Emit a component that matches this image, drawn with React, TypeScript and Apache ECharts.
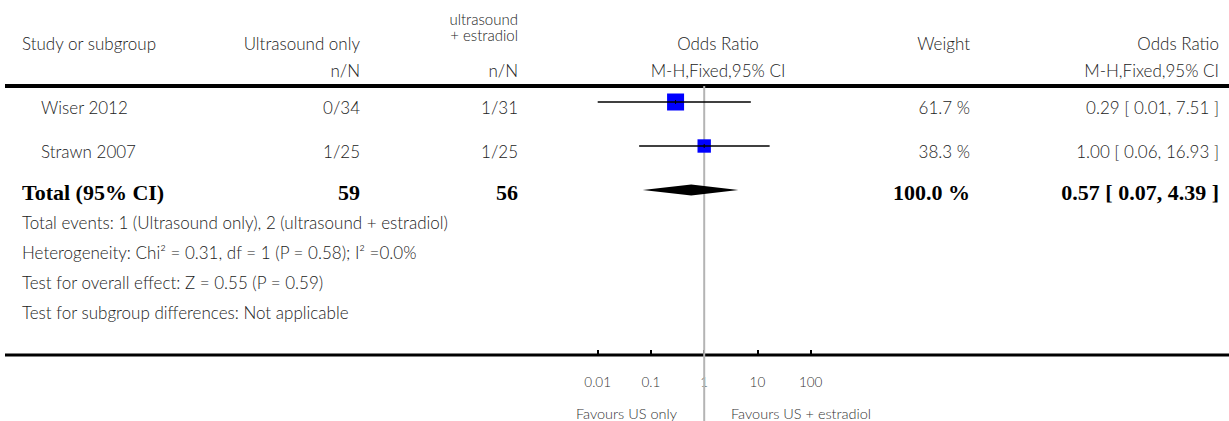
import React, { useEffect, useRef } from "react";
import * as echarts from "echarts";

// ---------- data ----------
const studies = ["Wiser 2012", "Strawn 2007"];
const usOnlyCounts = ["0/34", "1/25"];
const usEstradiolCounts = ["1/31", "1/25"];
const weights = [61.7, 38.3];
const oddsRatios = [0.29, 1.0];
const ciLow = [0.01, 0.06];
const ciHigh = [7.51, 16.93];
const weightLabels = ["61.7 %", "38.3 %"];
const ciLabels = ["0.29 [ 0.01, 7.51 ]", "1.00 [ 0.06, 16.93 ]"];

const totalLabel = "Total (95% CI)";
const totalUsOnly = "59";
const totalUsEstradiol = "56";
const totalWeightLabel = "100.0 %";
const totalOR = [0.57];
const totalLow = [0.07];
const totalHigh = [4.39];
const totalCiLabel = "0.57 [ 0.07, 4.39 ]";

const footnotes = [
  "Total events: 1 (Ultrasound only), 2 (ultrasound + estradiol)",
  "Heterogeneity: Chi\u00B2 = 0.31, df = 1 (P = 0.58); I\u00B2 =0.0%",
  "Test for overall effect: Z = 0.55 (P = 0.59)",
  "Test for subgroup differences: Not applicable",
];

const tickValues = [0.01, 0.1, 1, 10, 100];
const tickLabels = ["0.01", "0.1", "1", "10", "100"];
const favoursLeft = "Favours US only";
const favoursRight = "Favours US + estradiol";

// ---------- layout ----------
const W = 1229;
const H = 421;
const SANS = "Lato, 'Open Sans', 'DejaVu Sans', sans-serif";
const SERIF = "'Liberation Serif', 'DejaVu Serif', serif";
const TXT = "#222";
const FS = 17;
const headerLineY = 86;
const axisLineY = 355;
const rowStep = 44;
const firstRowOffset = 16;
const gridLeft = 597.7;
const gridRight = 810.7;

const colStudyX = 41;
const colUsOnlyX = 360;
const colUsEstX = 518;
const colWeightX = 970;
const colCiX = 1219;
const plotCenterX = 718;

function rowY(i: number) {
  return headerLineY + firstRowOffset + i * rowStep;
}

function txt(
  text: string,
  x: number,
  y: number,
  align: string,
  opts: { size?: number; bold?: boolean; serif?: boolean; fill?: string; lineHeight?: number } = {}
) {
  return {
    type: "text",
    silent: true,
    style: {
      text,
      x,
      y,
      align,
      verticalAlign: "middle",
      fontSize: opts.size ?? FS,
      fontFamily: opts.serif ? SERIF : SANS,
      fontWeight: opts.bold ? "bold" : 300,
      fill: opts.fill ?? TXT,
      lineHeight: opts.lineHeight,
    },
  };
}

export default function App() {
  const ref = useRef<HTMLDivElement>(null);

  useEffect(() => {
    if (!ref.current) return;
    const chart = echarts.init(ref.current, undefined, { renderer: "svg" });

    const studyData = studies.map((_, i) => [
      oddsRatios[i],
      ciLow[i],
      ciHigh[i],
      i,
      weights[i],
    ]);
    const totalRow = studies.length;
    const totalData = totalOR.map((v, i) => [v, totalLow[i], totalHigh[i], totalRow]);

    const graphics: any[] = [];
    // header
    graphics.push(txt("Study or subgroup", 22, 43, "left"));
    graphics.push(txt("Ultrasound only", colUsOnlyX, 43, "right"));
    graphics.push(txt("ultrasound\n+ estradiol", colUsEstX, 27, "right", { size: 15, lineHeight: 16 }));
    graphics.push(txt("Odds Ratio", plotCenterX, 43, "center"));
    graphics.push(txt("Weight", colWeightX, 43, "right"));
    graphics.push(txt("Odds Ratio", colCiX, 43, "right"));
    graphics.push(txt("n/N", colUsOnlyX, 70, "right"));
    graphics.push(txt("n/N", colUsEstX, 70, "right"));
    graphics.push(txt("M-H,Fixed,95% CI", plotCenterX, 70, "center"));
    graphics.push(txt("M-H,Fixed,95% CI", colCiX, 70, "right"));
    // lines
    graphics.push({
      type: "line",
      silent: true,
      shape: { x1: 5, y1: headerLineY, x2: W, y2: headerLineY },
      style: { stroke: "#000", lineWidth: 4 },
    });
    graphics.push({
      type: "line",
      silent: true,
      shape: { x1: 5, y1: axisLineY, x2: W, y2: axisLineY },
      style: { stroke: "#000", lineWidth: 3 },
    });
    // study rows
    studies.forEach((s, i) => {
      const y = rowY(i) + 5;
      graphics.push(txt(s, colStudyX, y, "left"));
      graphics.push(txt(usOnlyCounts[i], colUsOnlyX, y, "right"));
      graphics.push(txt(usEstradiolCounts[i], colUsEstX, y, "right"));
      graphics.push(txt(weightLabels[i], colWeightX, y, "right"));
      graphics.push(txt(ciLabels[i], colCiX, y, "right"));
    });
    // total row
    const ty = rowY(totalRow) + 2;
    const bold = { serif: true, bold: true, size: 22, fill: "#000" };
    graphics.push(txt(totalLabel, 22, ty, "left", bold));
    graphics.push(txt(totalUsOnly, colUsOnlyX, ty, "right", bold));
    graphics.push(txt(totalUsEstradiol, colUsEstX, ty, "right", bold));
    graphics.push(txt(totalWeightLabel, colWeightX, ty, "right", bold));
    graphics.push(txt(totalCiLabel, colCiX, ty, "right", bold));
    // footnotes
    footnotes.forEach((f, i) => {
      graphics.push(txt(f, 22, 222 + i * 30, "left"));
    });
    // favours
    graphics.push(txt(favoursLeft, 677, 413, "right", { size: 14.5, fill: "#333" }));
    graphics.push(txt(favoursRight, 731, 413, "left", { size: 14.5, fill: "#333" }));

    const option: any = {
      animation: false,
      backgroundColor: "#fff",
      grid: {
        left: gridLeft,
        width: gridRight - gridLeft,
        top: headerLineY,
        height: axisLineY - headerLineY,
        containLabel: false,
      },
      xAxis: {
        type: "log",
        logBase: 10,
        position: "bottom",
        min: tickValues[0],
        max: tickValues[tickValues.length - 1],
        axisLine: { show: false, onZero: false },
        axisTick: {
          show: true,
          inside: true,
          length: 5,
          lineStyle: { color: "#000", width: 2 },
        },
        splitLine: { show: false },
        axisLabel: {
          margin: 20,
          fontSize: 13.5,
          fontFamily: SANS,
          fontWeight: 300,
          color: "#333",
          formatter: (v: number) => {
            const idx = tickValues.findIndex((t) => Math.abs(Math.log10(t) - Math.log10(v)) < 1e-6);
            return idx >= 0 ? tickLabels[idx] : "";
          },
        },
      },
      yAxis: {
        type: "value",
        inverse: true,
        show: false,
        min: -firstRowOffset / rowStep,
        max: (axisLineY - headerLineY - firstRowOffset) / rowStep,
        splitLine: { show: false },
      },
      series: [
        {
          type: "custom",
          z: 1,
          clip: false,
          data: [[1]],
          renderItem: (params: any, api: any) => {
            const x = api.coord([api.value(0), 0])[0];
            const cs = params.coordSys;
            return {
              type: "line",
              shape: { x1: x, y1: cs.y, x2: x, y2: H },
              style: { stroke: "#b4b4b4", lineWidth: 2 },
            };
          },
        },
        {
          type: "custom",
          z: 3,
          clip: false,
          data: studyData,
          encode: { x: [0, 1, 2], y: 3 },
          renderItem: (_params: any, api: any) => {
            const row = api.value(3);
            const pEst = api.coord([api.value(0), row]);
            const pLo = api.coord([api.value(1), row]);
            const pHi = api.coord([api.value(2), row]);
            const side = 2.164 * Math.sqrt(api.value(4));
            return {
              type: "group",
              children: [
                {
                  type: "rect",
                  shape: { x: pEst[0] - side / 2, y: pEst[1] - side / 2, width: side, height: side },
                  style: { fill: "#0000ff" },
                },
                {
                  type: "line",
                  shape: { x1: pLo[0], y1: pLo[1], x2: pHi[0], y2: pHi[1] },
                  style: { stroke: "#000", lineWidth: 1.5 },
                },
                {
                  type: "line",
                  shape: { x1: pEst[0], y1: pEst[1] - 2, x2: pEst[0], y2: pEst[1] + 2 },
                  style: { stroke: "#000", lineWidth: 1 },
                },
              ],
            };
          },
        },
        {
          type: "custom",
          z: 3,
          clip: false,
          data: totalData,
          encode: { x: [0, 1, 2], y: 3 },
          renderItem: (_params: any, api: any) => {
            const row = api.value(3);
            const pEst = api.coord([api.value(0), row]);
            const pLo = api.coord([api.value(1), row]);
            const pHi = api.coord([api.value(2), row]);
            const h = 5.5;
            return {
              type: "polygon",
              shape: {
                points: [
                  [pLo[0], pLo[1]],
                  [pEst[0], pEst[1] - h],
                  [pHi[0], pHi[1]],
                  [pEst[0], pEst[1] + h],
                ],
              },
              style: { fill: "#000" },
            };
          },
        },
      ],
      graphic: graphics,
    };

    chart.setOption(option);
    return () => chart.dispose();
  }, []);

  return (
    <div
      ref={ref}
      style={{ position: "fixed", left: 0, top: 0, width: W, height: H, background: "#fff" }}
    />
  );
}
